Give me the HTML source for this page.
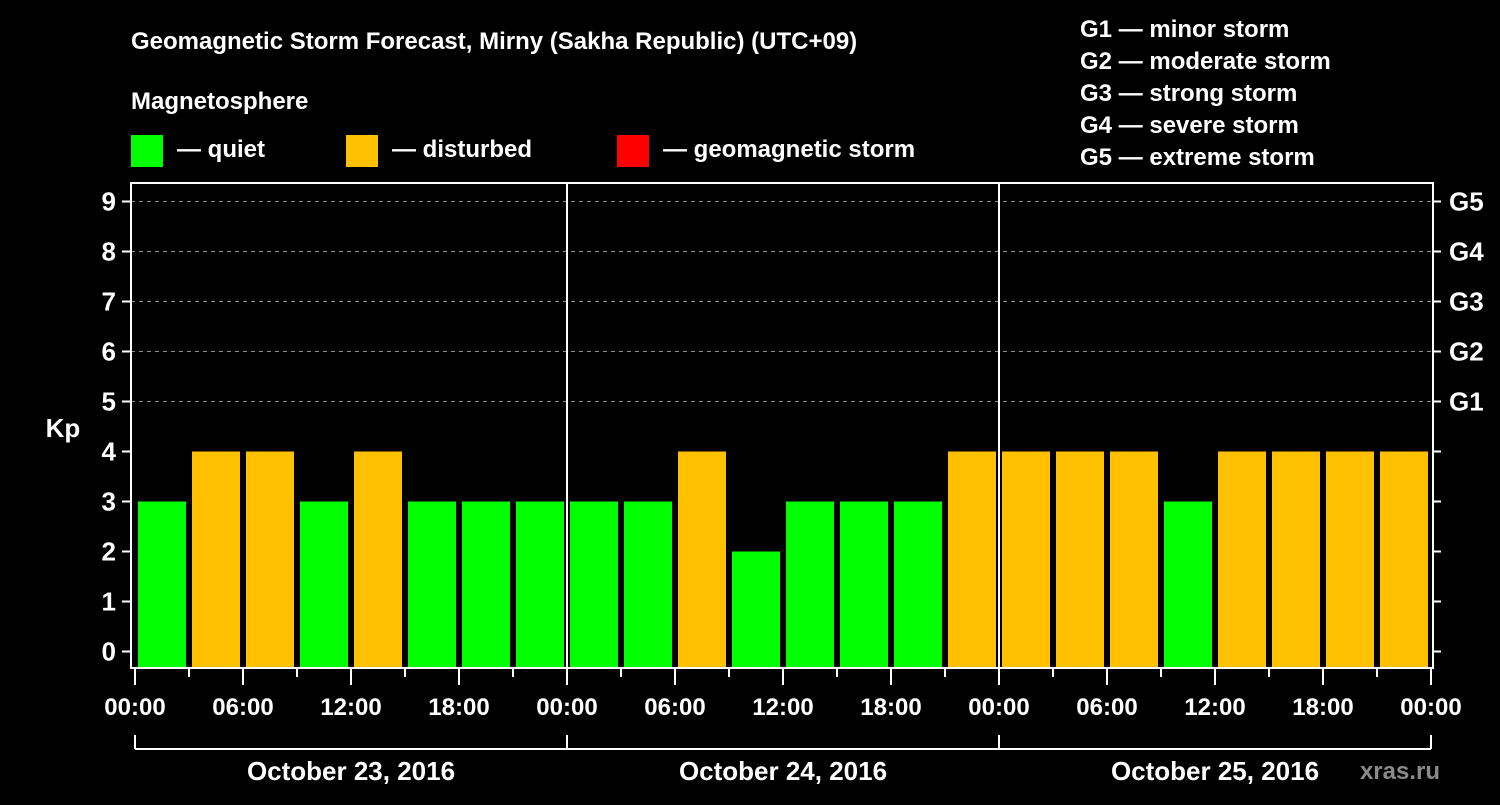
<!DOCTYPE html>
<html><head><meta charset="utf-8"><style>
body{margin:0;background:#000;width:1500px;height:800px;overflow:hidden}
svg text{font-family:"Liberation Sans",sans-serif;font-weight:bold;fill:#fff}
</style></head><body>
<svg width="1500" height="800" xmlns="http://www.w3.org/2000/svg">
<text x="131" y="49" font-size="24">Geomagnetic Storm Forecast, Mirny (Sakha Republic) (UTC+09)</text>
<text x="131" y="109" font-size="24">Magnetosphere</text>
<g>
<rect x="131" y="135" width="32" height="32" fill="#00ff00"/>
<text x="177" y="157" font-size="24">— quiet</text>
<rect x="346" y="135" width="32" height="32" fill="#ffc000"/>
<text x="392" y="157" font-size="24">— disturbed</text>
<rect x="617" y="135" width="32" height="32" fill="#ff0000"/>
<text x="663" y="157" font-size="24">— geomagnetic storm</text>
</g>
<g font-size="24">
<text x="1080" y="37">G1 — minor storm</text>
<text x="1080" y="69">G2 — moderate storm</text>
<text x="1080" y="101">G3 — strong storm</text>
<text x="1080" y="133">G4 — severe storm</text>
<text x="1080" y="165">G5 — extreme storm</text>
</g>
<text x="63" y="437" font-size="26" text-anchor="middle">Kp</text>
<g id="grid"></g><g id="bars"></g><g id="axes"></g>
<text x="1440" y="779" font-size="24" fill="#888" style="fill:#8a8a8a" text-anchor="end">xras.ru</text>
</svg>
<script>
const kpValues=[3,4,4,3,4,3,3,3, 3,3,4,2,3,3,3,4, 4,4,4,3,4,4,4,4];
const yTicks=[0,1,2,3,4,5,6,7,8,9];
const gLabels=["G1","G2","G3","G4","G5"];
const xLabels=["00:00","06:00","12:00","18:00","00:00","06:00","12:00","18:00","00:00","06:00","12:00","18:00","00:00"];
const dayLabels=["October 23, 2016","October 24, 2016","October 25, 2016"];
const NS="http://www.w3.org/2000/svg";
const L=131,R=1433,T=183,B=668,X0=135,SLOT=54;
const yS=v=>651.5-50*v;
const xS=i=>X0+SLOT*i;
function mk(p,tag,at,txt){const e=document.createElementNS(NS,tag);for(const k in at)e.setAttribute(k,at[k]);if(txt!=null)e.textContent=txt;p.appendChild(e);return e;}
const grid=document.getElementById('grid'),bars=document.getElementById('bars'),axes=document.getElementById('axes');
for(let g=5;g<=9;g++){const e=mk(grid,'line',{x1:L,x2:R,y1:yS(g),y2:yS(g),stroke:'#888','stroke-dasharray':'4,4','stroke-width':1});

}
kpValues.forEach((v,i)=>{const c=v>=5?'#ff0000':v>=4?'#ffc000':'#00ff00';
const r=mk(bars,'rect',{x:xS(i)+3,y:yS(v),width:48,height:B-yS(v),fill:c});

});
const frame=mk(axes,'rect',{x:L,y:T,width:R-L,height:B-T,fill:'none',stroke:'#fff','stroke-width':2});


[1,2].forEach(d=>{const e=mk(axes,'line',{x1:xS(8*d),x2:xS(8*d),y1:T,y2:B,stroke:'#fff','stroke-width':2});

});
yTicks.forEach(v=>{mk(axes,'line',{x1:122,x2:L,y1:yS(v),y2:yS(v),stroke:'#fff','stroke-width':2});
mk(axes,'line',{x1:R,x2:1441,y1:yS(v),y2:yS(v),stroke:'#fff','stroke-width':2});
const t=mk(axes,'text',{x:116,y:yS(v)+9,'font-size':26,'text-anchor':'end'},String(v));

});
gLabels.forEach((g,i)=>{const t=mk(axes,'text',{x:1449,y:yS(5+i)+9,'font-size':26},g);

});
for(let i=0;i<=24;i++){const major=i%2==0;mk(axes,'line',{x1:xS(i),x2:xS(i),y1:B,y2:B+(major?17:9),stroke:'#fff','stroke-width':2});}
xLabels.forEach((s,i)=>{const t=mk(axes,'text',{x:xS(2*i),y:715,'font-size':24,'text-anchor':'middle'},s);

});
mk(axes,'line',{x1:xS(0),x2:xS(24),y1:749,y2:749,stroke:'#fff','stroke-width':2});
for(let d=0;d<=3;d++)mk(axes,'line',{x1:xS(8*d),x2:xS(8*d),y1:735,y2:749,stroke:'#fff','stroke-width':2});
dayLabels.forEach((s,i)=>{const t=mk(axes,'text',{x:xS(8*i+4),y:780,'font-size':26,'text-anchor':'middle'},s);

});
</script>
</body></html>
